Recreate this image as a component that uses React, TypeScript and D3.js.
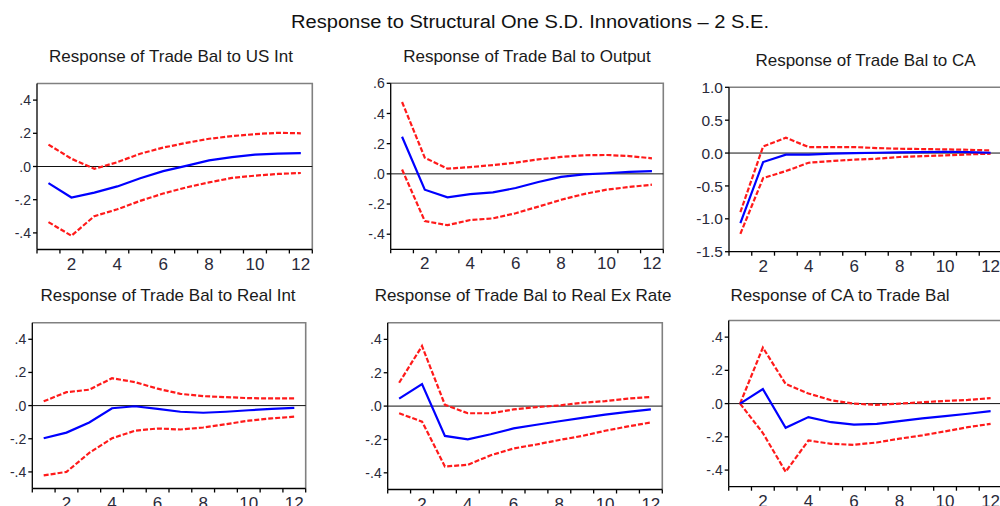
import React from "react";
import * as d3 from "d3";

// ---- Data ----
const periods = [1, 2, 3, 4, 5, 6, 7, 8, 9, 10, 11, 12];
const xTickLabels = [2, 4, 6, 8, 10, 12];

const mainTitle = "Response to Structural One S.D. Innovations – 2 S.E.";
const panelTitles = [
  "Response of Trade Bal to US Int",
  "Response of Trade Bal to Output",
  "Response of Trade Bal to CA",
  "Response of Trade Bal to Real Int",
  "Response of Trade Bal to Real Ex Rate",
  "Response of CA to Trade Bal",
];

// Panel 1: Trade Bal to US Int
const tbUsIntResp = [-0.1, -0.187, -0.157, -0.12, -0.071, -0.028, 0.004, 0.037, 0.057, 0.071, 0.077, 0.081];
const tbUsIntUpper = [0.132, 0.047, -0.014, 0.026, 0.077, 0.114, 0.142, 0.167, 0.183, 0.195, 0.203, 0.2];
const tbUsIntLower = [-0.335, -0.417, -0.299, -0.258, -0.207, -0.163, -0.126, -0.096, -0.069, -0.055, -0.045, -0.039];

// Panel 2: Trade Bal to Output
const tbOutputResp = [0.246, -0.105, -0.156, -0.134, -0.123, -0.094, -0.054, -0.02, -0.004, 0.004, 0.013, 0.018];
const tbOutputUpper = [0.476, 0.107, 0.034, 0.045, 0.058, 0.074, 0.096, 0.112, 0.123, 0.125, 0.118, 0.103];
const tbOutputLower = [0.029, -0.313, -0.34, -0.306, -0.295, -0.261, -0.217, -0.172, -0.134, -0.105, -0.087, -0.072];

// Panel 3: Trade Bal to CA
const tbCaResp = [-1.066, -0.137, -0.025, -0.025, -0.01, 0.0, 0.005, 0.01, 0.015, 0.02, 0.015, 0.005];
const tbCaUpper = [-0.898, 0.1, 0.233, 0.091, 0.091, 0.091, 0.076, 0.066, 0.061, 0.056, 0.05, 0.04];
const tbCaLower = [-1.228, -0.381, -0.274, -0.147, -0.122, -0.1, -0.086, -0.06, -0.046, -0.036, -0.02, -0.01];

// Panel 4: Trade Bal to Real Int
const tbRealIntResp = [-0.197, -0.163, -0.102, -0.016, -0.004, -0.02, -0.037, -0.043, -0.037, -0.028, -0.02, -0.014];
const tbRealIntUpper = [0.026, 0.081, 0.096, 0.165, 0.142, 0.102, 0.071, 0.057, 0.051, 0.045, 0.043, 0.043];
const tbRealIntLower = [-0.421, -0.4, -0.285, -0.197, -0.152, -0.138, -0.144, -0.132, -0.112, -0.091, -0.077, -0.067];

// Panel 5: Trade Bal to Real Ex Rate
const tbRerResp = [0.045, 0.132, -0.179, -0.199, -0.169, -0.134, -0.112, -0.091, -0.071, -0.051, -0.035, -0.02];
const tbRerUpper = [0.14, 0.36, 0.008, -0.043, -0.043, -0.02, -0.006, 0.004, 0.02, 0.03, 0.045, 0.055];
const tbRerLower = [-0.043, -0.093, -0.362, -0.352, -0.295, -0.254, -0.23, -0.203, -0.179, -0.148, -0.122, -0.098];

// Panel 6: CA to Trade Bal
const caTbResp = [0.0, 0.087, -0.146, -0.081, -0.112, -0.126, -0.122, -0.106, -0.089, -0.075, -0.061, -0.045];
const caTbUpper = [0.0, 0.337, 0.118, 0.061, 0.02, 0.0, -0.008, 0.0, 0.008, 0.016, 0.022, 0.033];
const caTbLower = [0.0, -0.177, -0.41, -0.222, -0.242, -0.248, -0.234, -0.211, -0.191, -0.167, -0.142, -0.122];

// Y axis domains and ticks
const yDomainA = [-0.5, 0.5];
const yDomainOutput = [-0.5, 0.6];
const yDomainCa = [-1.5, 1.0];
const yTicksA = [0.4, 0.2, 0.0, -0.2, -0.4];
const yTicksOutput = [0.6, 0.4, 0.2, 0.0, -0.2, -0.4];
const yTicksCa = [1.0, 0.5, 0.0, -0.5, -1.0, -1.5];

const fmtShort = (v: number) => {
  const s = Math.abs(v).toFixed(1).replace(/^0/, "");
  return v < -1e-9 ? "-" + s : s;
};
const fmtLong = (v: number) => d3.format(".1f")(v).replace("−", "-");

const series = [
  { resp: tbUsIntResp, up: tbUsIntUpper, lo: tbUsIntLower, dom: yDomainA, ticks: yTicksA, fmt: fmtShort },
  { resp: tbOutputResp, up: tbOutputUpper, lo: tbOutputLower, dom: yDomainOutput, ticks: yTicksOutput, fmt: fmtShort },
  { resp: tbCaResp, up: tbCaUpper, lo: tbCaLower, dom: yDomainCa, ticks: yTicksCa, fmt: fmtLong },
  { resp: tbRealIntResp, up: tbRealIntUpper, lo: tbRealIntLower, dom: yDomainA, ticks: yTicksA, fmt: fmtShort },
  { resp: tbRerResp, up: tbRerUpper, lo: tbRerLower, dom: yDomainA, ticks: yTicksA, fmt: fmtShort },
  { resp: caTbResp, up: caTbUpper, lo: caTbLower, dom: yDomainA, ticks: yTicksA, fmt: fmtShort },
];

// Layout (box positions in px)
const layout = [
  { left: 37, right: 312.3, top: 83.5, bottom: 249.5, tx: 171, ty: 62, yFont: 14 },
  { left: 390.7, right: 663.3, top: 83.3, bottom: 249.3, tx: 527, ty: 62, yFont: 14 },
  { left: 729, right: 1002, top: 87.3, bottom: 251.7, tx: 865.5, ty: 66, yFont: 15.5 },
  { left: 32.3, right: 305.7, top: 322.7, bottom: 488.5, tx: 168, ty: 301, yFont: 14 },
  { left: 387.7, right: 662.3, top: 322.7, bottom: 489.5, tx: 523, ty: 301, yFont: 14 },
  { left: 728.7, right: 1002, top: 320.5, bottom: 486.7, tx: 840, ty: 301, yFont: 14 },
];

const FONT = "'Liberation Sans', Arial, sans-serif";

function Panel({ idx }: { idx: number }) {
  const s = series[idx];
  const L = layout[idx];
  const x = d3.scaleLinear().domain([0.5, 12.5]).range([L.left, L.right]);
  const y = d3.scaleLinear().domain(s.dom).range([L.bottom, L.top]);
  const line = d3
    .line<number>()
    .x((_, i) => x(periods[i]))
    .y((d) => y(d));
  const boundaries = d3.range(0.5, 13, 1);
  return (
    <g>
      <text x={L.tx} y={L.ty} textAnchor="middle" fontSize={17} fill="#1a1a1a" fontFamily={FONT}>
        {panelTitles[idx]}
      </text>
      {/* frame: top & right gray */}
      <path
        d={`M${L.left},${L.top}H${L.right}V${L.bottom}`}
        fill="none"
        stroke="#808080"
        strokeWidth={1.6}
      />
      {/* zero line */}
      <line x1={L.left} x2={L.right} y1={y(0)} y2={y(0)} stroke="#111" strokeWidth={1} />
      {/* series */}
      <path d={line(s.up) || ""} fill="none" stroke="#ff1a1a" strokeWidth={2.2} strokeDasharray="5,2" />
      <path d={line(s.lo) || ""} fill="none" stroke="#ff1a1a" strokeWidth={2.2} strokeDasharray="5,2" />
      <path d={line(s.resp) || ""} fill="none" stroke="#0000ff" strokeWidth={2.2} />
      {/* y axis */}
      <line x1={L.left} x2={L.left} y1={L.top} y2={L.bottom} stroke="#000" strokeWidth={1.3} />
      {s.ticks.map((t) => (
        <g key={t}>
          <line x1={L.left - 4} x2={L.left} y1={y(t)} y2={y(t)} stroke="#000" strokeWidth={1.3} />
          <text
            x={L.left - 6}
            y={y(t)}
            dy="0.36em"
            textAnchor="end"
            fontSize={L.yFont}
            fill="#2a2a3a"
            fontFamily={FONT}
          >
            {s.fmt(t)}
          </text>
        </g>
      ))}
      {/* x axis */}
      <line x1={L.left} x2={L.right} y1={L.bottom} y2={L.bottom} stroke="#000" strokeWidth={1.3} />
      {boundaries.map((b) => (
        <line key={b} x1={x(b)} x2={x(b)} y1={L.bottom} y2={L.bottom + 4} stroke="#000" strokeWidth={1.3} />
      ))}
      {xTickLabels.map((p) => (
        <text
          key={p}
          x={x(p)}
          y={L.bottom + 20}
          textAnchor="middle"
          fontSize={17}
          fill="#2a2a3a"
          fontFamily={FONT}
        >
          {p}
        </text>
      ))}
    </g>
  );
}

export default function App() {
  return (
    <svg
      width={1000}
      height={506}
      style={{ position: "absolute", left: 0, top: 0, background: "#fff" }}
      viewBox="0 0 1000 506"
    >
      <rect x={0} y={0} width={1000} height={506} fill="#fff" />
      <text
        x={530}
        y={28}
        textAnchor="middle"
        fontSize={18}
        fill="#111"
        fontFamily={FONT}
        textLength={478}
        lengthAdjust="spacingAndGlyphs"
      >
        {mainTitle}
      </text>
      {series.map((_, i) => (
        <Panel key={i} idx={i} />
      ))}
    </svg>
  );
}
